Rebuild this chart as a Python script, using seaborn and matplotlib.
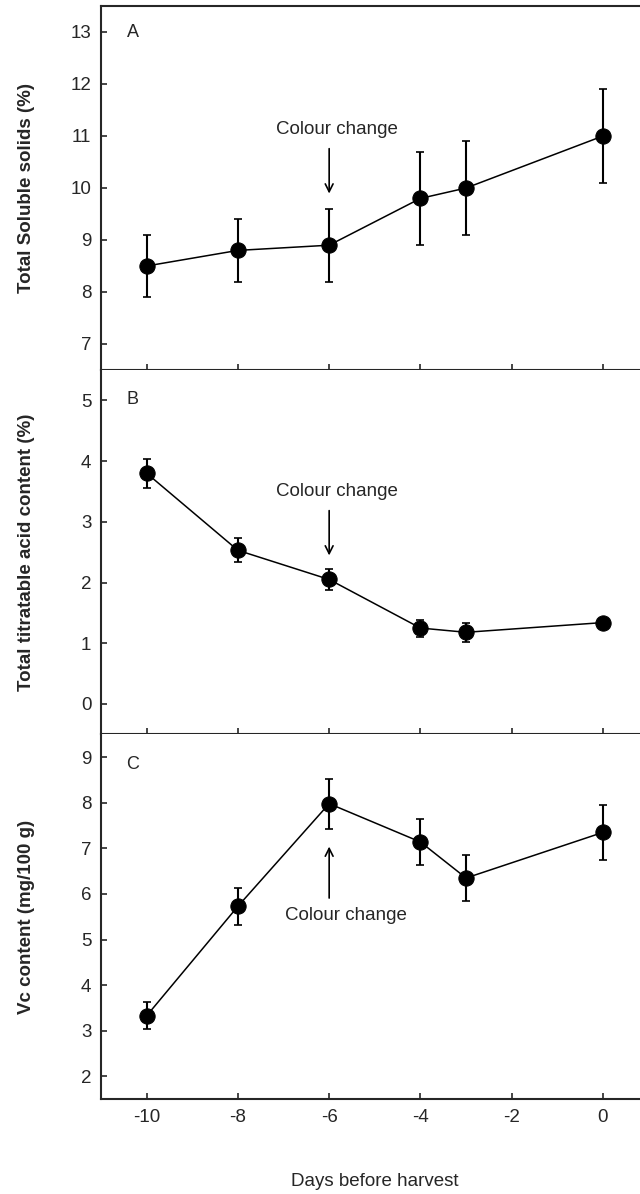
import seaborn as sns
import matplotlib.pyplot as plt

days = [-10, -8, -6, -4, -3, 0]

# A: total soluble solids (%)
tss = [8.5, 8.8, 8.9, 9.8, 10.0, 11.0]
tss_err = [0.6, 0.6, 0.7, 0.9, 0.9, 0.9]

# B: total titratable acid content (%)
tta = [3.8, 2.53, 2.05, 1.25, 1.18, 1.34]
tta_err = [0.24, 0.2, 0.17, 0.14, 0.16, 0.05]

# C: Vc content (mg/100 g)
vc = [3.33, 5.73, 7.98, 7.14, 6.35, 7.35]
vc_err = [0.3, 0.4, 0.55, 0.5, 0.5, 0.6]

ylabels = ["Total Soluble solids (%)",
           "Total titratable acid content (%)",
           "Vc content (mg/100 g)"]
letters = ["A", "B", "C"]
ylims = [(6.5, 13.5), (-0.5, 5.5), (1.5, 9.5)]
yticks = [range(7, 14), range(0, 6), range(2, 10)]
xticks = [-10, -8, -6, -4, -2, 0]

sns.set_style("ticks")
plt.rcParams['font.family'] = ['Liberation Sans', 'DejaVu Sans']
plt.rcParams['axes.unicode_minus'] = False

fig = plt.figure(figsize=(6.4, 11.94), dpi=100)
H = 1194.0
left = 101 / 640
width = (648.6 - 101) / 640
bounds = [(6, 370), (370, 734.3), (734.3, 1099.3)]

series = [(tss, tss_err), (tta, tta_err), (vc, vc_err)]
axes = []
for i, (top, bot) in enumerate(bounds):
    ax = fig.add_axes([left, 1 - bot / H, width, (bot - top) / H])
    vals, err = series[i]
    ax.errorbar(days, vals, yerr=err, fmt='none', ecolor='black',
                elinewidth=1.5, capsize=3.2, capthick=1.2, zorder=1)
    sns.lineplot(x=days, y=vals, ax=ax, color='black', marker='o',
                 markersize=11, markeredgecolor='black', linewidth=1.1,
                 errorbar=None, zorder=2)
    ax.set_xlim(-11, 1)
    ax.set_ylim(*ylims[i])
    ax.set_yticks(list(yticks[i]))
    ax.set_xticks(xticks)
    ax.tick_params(direction='in', length=4.5, width=1.2, labelsize=13.5, pad=7)
    for s in ax.spines.values():
        s.set_linewidth(1.5)
    ax.spines['right'].set_visible(False)
    if i > 0:
        ax.spines['top'].set_visible(False)
    if i < 2:
        ax.tick_params(labelbottom=False)
    ax.set_ylabel(ylabels[i], fontsize=13.5, fontweight='bold')
    ax.yaxis.set_label_coords(-0.12, 0.5)
    ax.text(0.058, [0.928, 0.92, 0.918][i], letters[i], transform=ax.transAxes,
            ha='center', va='center', fontsize=13)
    axes.append(ax)

axA, axB, axC = axes
axC.set_xlabel("Days before harvest", fontsize=13.5, labelpad=34)

arrow = dict(arrowstyle='->', color='black', lw=1.2, mutation_scale=14)
axA.annotate('', xy=(-6, 9.84), xytext=(-6, 10.81), arrowprops=arrow)
axA.text(-5.82, 11.12, "Colour change", ha='center', va='center', fontsize=13.5)
axB.annotate('', xy=(-6, 2.4), xytext=(-6, 3.23), arrowprops=arrow)
axB.text(-5.82, 3.5, "Colour change", ha='center', va='center', fontsize=13.5)
axC.annotate('', xy=(-6, 7.1), xytext=(-6, 5.85), arrowprops=arrow)
axC.text(-5.64, 5.53, "Colour change", ha='center', va='center', fontsize=13.5)

fig.savefig("out.png", dpi=100)
